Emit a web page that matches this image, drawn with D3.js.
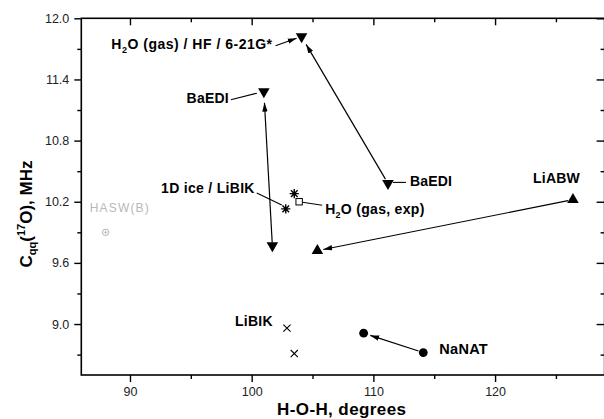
<!DOCTYPE html>
<html><head><meta charset="utf-8">
<script src="https://cdn.jsdelivr.net/npm/d3@7"></script>
<style>
body{margin:0;background:#fff;}
svg{display:block;font-family:"Liberation Sans",Arial,Helvetica,sans-serif;}
</style></head><body>
<svg id="c" width="604" height="419"></svg>
<script>
// ---- data ----
const xTicks = [90, 100, 110, 120];
const xMinorTicks = [95, 105, 115, 125];
const yTicks = [9.0, 9.6, 10.2, 10.8, 11.4, 12.0];
const yMinorTicks = [8.7, 9.3, 9.9, 10.5, 11.1, 11.7];

const triDownX = [104.1, 111.2, 101.0, 101.7];
const triDownY = [11.82, 10.38, 11.28, 9.77];
const triUpX = [126.4, 105.4];
const triUpY = [10.22, 9.72];
const starX = [103.5, 102.8];
const starY = [10.28, 10.13];
const squareX = [103.9];
const squareY = [10.20];
const crossX = [102.9, 103.5];
const crossY = [8.96, 8.71];
const circleX = [109.2, 114.1];
const circleY = [8.91, 8.72];
const haswX = [88.0];
const haswY = [9.90];

const labelTexts = ["H2O (gas) / HF / 6-21G*", "BaEDI", "BaEDI", "LiABW", "1D ice / LiBIK", "H2O (gas, exp)", "LiBIK", "NaNAT", "HASW(B)"];

// ---- layout ----
const svg = d3.select("#c");
const x = d3.scaleLinear().domain([86, 129]).range([81.3, 604.6]);
const y = d3.scaleLinear().domain([8.5, 12.0]).range([375, 18.3]);
const X0 = x.range()[0], X1 = x.range()[1], Y0 = y.range()[0], Y1 = y.range()[1];

svg.append("rect").attr("width", 604).attr("height", 419).attr("fill", "#fff");

const defs = svg.append("defs");
defs.append("marker").attr("id", "ah").attr("viewBox", "0 0 10 6")
  .attr("refX", 10).attr("refY", 3).attr("markerWidth", 9).attr("markerHeight", 5.5)
  .attr("markerUnits", "userSpaceOnUse").attr("orient", "auto")
  .append("path").attr("d", "M0,0L10,3L0,6Z").attr("fill", "#000");

function styleAxis(g, labels) {
  g.select(".domain").remove();
  g.selectAll(".tick line").attr("stroke", "#000").attr("stroke-width", 1.4);
  g.selectAll(".tick text").attr("font-size", 12.5).attr("fill", "#222")
    .attr("font-family", "'Liberation Sans',Arial,sans-serif");
  if (!labels) g.selectAll(".tick text").remove();
}
// bottom
svg.append("g").attr("transform", `translate(0,${Y0})`)
  .call(d3.axisBottom(x).tickValues(xTicks).tickSize(7).tickPadding(5).tickFormat(d3.format("d")))
  .call(g => styleAxis(g, true));
svg.append("g").attr("transform", `translate(0,${Y0})`)
  .call(d3.axisBottom(x).tickValues(xMinorTicks).tickSize(4).tickFormat(""))
  .call(g => styleAxis(g, false));
// top (inward)
svg.append("g").attr("transform", `translate(0,${Y1})`)
  .call(d3.axisBottom(x).tickValues(xTicks).tickSize(7).tickFormat(""))
  .call(g => styleAxis(g, false));
svg.append("g").attr("transform", `translate(0,${Y1})`)
  .call(d3.axisBottom(x).tickValues(xMinorTicks).tickSize(4).tickFormat(""))
  .call(g => styleAxis(g, false));
// left
svg.append("g").attr("transform", `translate(${X0},0)`)
  .call(d3.axisLeft(y).tickValues(yTicks).tickSize(7).tickPadding(5).tickFormat(d3.format(".1f")))
  .call(g => styleAxis(g, true));
svg.append("g").attr("transform", `translate(${X0},0)`)
  .call(d3.axisLeft(y).tickValues(yMinorTicks).tickSize(4).tickFormat(""))
  .call(g => styleAxis(g, false));
// right (inward)
svg.append("g").attr("transform", `translate(${X1},0)`)
  .call(d3.axisLeft(y).tickValues(yTicks).tickSize(8).tickFormat(""))
  .call(g => styleAxis(g, false));
svg.append("g").attr("transform", `translate(${X1},0)`)
  .call(d3.axisLeft(y).tickValues(yMinorTicks).tickSize(4).tickFormat(""))
  .call(g => styleAxis(g, false));
// frame
svg.append("rect").attr("x", X0).attr("y", Y1).attr("width", X1 - X0).attr("height", Y0 - Y1)
  .attr("fill", "none").attr("stroke", "#000").attr("stroke-width", 1.6);

// axis titles
svg.append("text").attr("x", (276.7 + 406.7) / 2).attr("y", 415).attr("text-anchor", "middle")
  .attr("font-size", 17).attr("font-weight", "bold").attr("letter-spacing", 0.4).text("H-O-H, degrees");
const yt = svg.append("text").attr("transform", "translate(32,214) rotate(-90)")
  .attr("text-anchor", "middle").attr("font-size", 17).attr("font-weight", "bold");
yt.append("tspan").text("C");
yt.append("tspan").attr("font-size", 11).attr("dy", 4).text("qq");
yt.append("tspan").attr("dy", -4).text("(");
yt.append("tspan").attr("font-size", 11).attr("dy", -7).text("17");
yt.append("tspan").attr("dy", 7).text("O), MHz");

// ---- arrows between points ----
function arrowLine(x1, y1, x2, y2, s1, s2, head) {
  const X1p = x(x1), Y1p = y(y1), X2p = x(x2), Y2p = y(y2);
  const dx = X2p - X1p, dy = Y2p - Y1p, L = Math.hypot(dx, dy);
  const ux = dx / L, uy = dy / L;
  const ln = svg.append("line")
    .attr("x1", X1p + ux * s1).attr("y1", Y1p + uy * s1)
    .attr("x2", X2p - ux * s2).attr("y2", Y2p - uy * s2)
    .attr("stroke", "#000").attr("stroke-width", 1.2);
  if (head) ln.attr("marker-end", "url(#ah)");
}
arrowLine(triDownX[1], triDownY[1], triDownX[0], triDownY[0], 5, 9, true);
arrowLine(triDownX[3], triDownY[3], triDownX[2], triDownY[2], 3, 11, true);
arrowLine(triUpX[0], triUpY[0], triUpX[1], triUpY[1], 5, 6, true);
arrowLine(circleX[1], circleY[1], circleX[0], circleY[0], 5, 7, true);

// ---- markers ----
const triSym = d3.symbol().type(d3.symbolTriangle).size(58);
svg.append("g").selectAll("path").data(triDownX).join("path")
  .attr("d", triSym)
  .attr("transform", (d, i) => `translate(${x(d)},${y(triDownY[i])}) rotate(180)`)
  .attr("fill", "#000");
svg.append("g").selectAll("path").data(triUpX).join("path")
  .attr("d", triSym)
  .attr("transform", (d, i) => `translate(${x(d)},${y(triUpY[i])})`)
  .attr("fill", "#000");
const r = 4.6, a = r * 0.72;
const starPath = `M${-r},0L${r},0M0,${-r}L0,${r}M${-a},${-a}L${a},${a}M${-a},${a}L${a},${-a}`;
svg.append("g").selectAll("path").data(starX).join("path")
  .attr("d", starPath)
  .attr("transform", (d, i) => `translate(${x(d)},${y(starY[i])})`)
  .attr("stroke", "#000").attr("stroke-width", 1.4).attr("fill", "none");
svg.append("g").selectAll("rect").data(squareX).join("rect")
  .attr("x", d => x(d) - 3.2).attr("y", (d, i) => y(squareY[i]) - 3.2)
  .attr("width", 6.4).attr("height", 6.4)
  .attr("fill", "#fff").attr("stroke", "#000").attr("stroke-width", 1);
const c = 3.6;
svg.append("g").selectAll("path").data(crossX).join("path")
  .attr("d", `M${-c},${-c}L${c},${c}M${-c},${c}L${c},${-c}`)
  .attr("transform", (d, i) => `translate(${x(d)},${y(crossY[i])})`)
  .attr("stroke", "#000").attr("stroke-width", 1.1);
svg.append("g").selectAll("circle").data(circleX).join("circle")
  .attr("cx", d => x(d)).attr("cy", (d, i) => y(circleY[i])).attr("r", 4.4)
  .attr("fill", "#000");
const hg = svg.append("g").selectAll("g").data(haswX).join("g")
  .attr("transform", (d, i) => `translate(${x(d)},${y(haswY[i])})`);
hg.append("circle").attr("r", 3.2).attr("fill", "none").attr("stroke", "#b5b5b5").attr("stroke-width", 1);
hg.append("path").attr("d", "M-2,0L2,0M0,-2L0,2").attr("stroke", "#b5b5b5").attr("stroke-width", 0.8);

// ---- labels ----
function label(txt, px, py, anchor, opts = {}) {
  const t = svg.append("text").attr("x", px).attr("y", py).attr("text-anchor", anchor)
    .attr("font-size", opts.size || 14).attr("font-weight", opts.weight || "bold")
    .attr("fill", opts.fill || "#000");
  if (opts.ls) t.attr("letter-spacing", opts.ls);
  if (txt.startsWith("H2O")) {
    t.append("tspan").text("H");
    t.append("tspan").attr("font-size", 9).attr("dy", 4).text("2");
    t.append("tspan").attr("dy", -4).text(txt.slice(2));
  } else t.text(txt);
  return t;
}
function seg(x1, y1, x2, y2, head) {
  const l = svg.append("line").attr("x1", x1).attr("y1", y1).attr("x2", x2).attr("y2", y2)
    .attr("stroke", "#000").attr("stroke-width", 1.1);
  if (head) l.attr("marker-end", "url(#ah)");
}
// H2O (gas) / HF / 6-21G*
{ const px = x(triDownX[0]), py = y(triDownY[0]);
  label(labelTexts[0], px - 29, py + 12, "end", { ls: 0.5 });
  seg(px - 26, py + 9, px - 5, py + 1.5, true); }
// BaEDI (left)
{ const px = x(triDownX[2]), py = y(triDownY[2]);
  label(labelTexts[1], px - 35, py + 11, "end", { ls: 0.2 });
  seg(px - 33, py + 8, px - 7, py + 1.5, false); }
// BaEDI (right)
{ const px = x(triDownX[1]), py = y(triDownY[1]);
  label(labelTexts[2], px + 22, py + 3, "start", { ls: 0.2 });
  seg(px + 5, py - 1, px + 18, py - 1, false); }
// LiABW
{ const px = x(triUpX[0]), py = y(triUpY[0]);
  label(labelTexts[3], px + 7, py - 17, "end", { ls: 0.2 }); }
// 1D ice / LiBIK
{ const px = x(starX[1]), py = y(starY[1]);
  label(labelTexts[4], px - 31, py - 16, "end", { ls: 0.3 });
  seg(px - 29, py - 16, px - 4, py - 4, false); }
// H2O (gas, exp)
{ const px = x(squareX[0]), py = y(squareY[0]);
  label(labelTexts[5], px + 26, py + 12, "start", { ls: 0.3 });
  seg(px + 3.5, py + 0.5, px + 23, py + 3.5, false); }
// LiBIK
{ const px = x(crossX[0]), py = y(crossY[0]);
  label(labelTexts[6], px - 14, py - 2, "end", { size: 14, ls: 0.3 }); }
// NaNAT
{ const px = x(circleX[1]), py = y(circleY[1]);
  label(labelTexts[7], px + 16, py + 1, "start", { size: 14.5, ls: 0.3 }); }
// HASW(B)
{ const px = x(haswX[0]), py = y(haswY[0]);
  label(labelTexts[8], px - 16, py - 20, "start", { size: 12, weight: "normal", fill: "#b8b8b8", ls: 1.2 }); }
</script>
</body></html>
